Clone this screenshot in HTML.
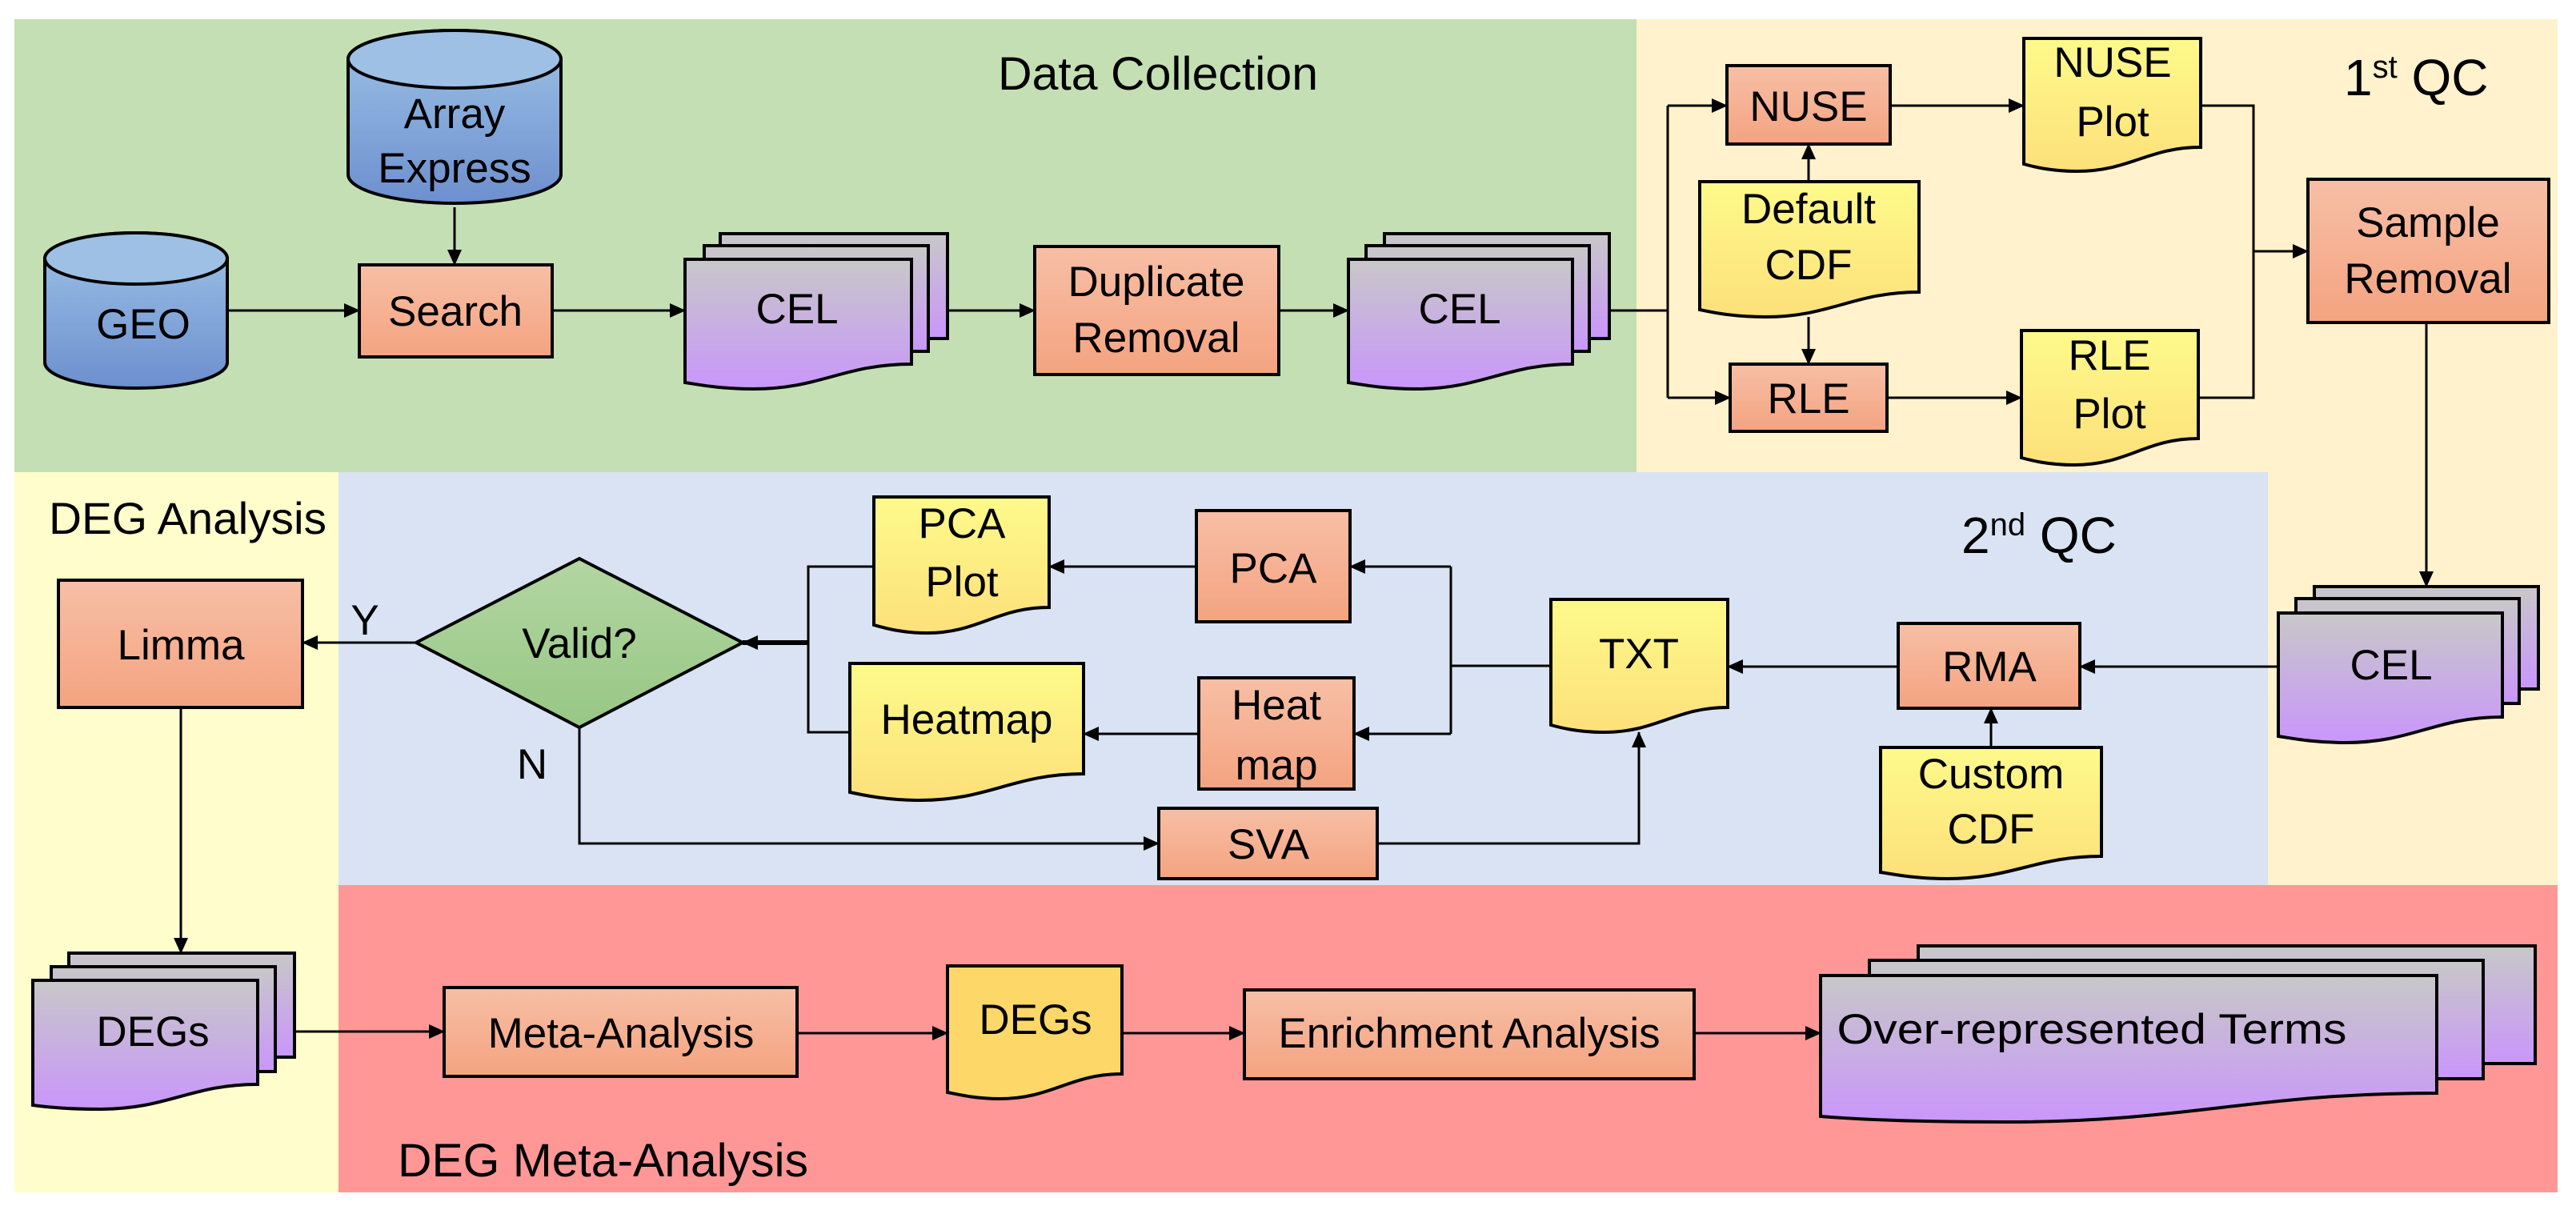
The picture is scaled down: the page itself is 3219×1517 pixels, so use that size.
<!DOCTYPE html>
<html><head><meta charset="utf-8"><style>
html,body{margin:0;padding:0;background:#fff;}
svg{display:block;}
text{font-family:"Liberation Sans",sans-serif;fill:#000;}
</style></head><body>
<svg width="3219" height="1517" viewBox="0 0 3219 1517" xmlns="http://www.w3.org/2000/svg">
<defs>
<linearGradient id="gBox" x1="0" y1="0" x2="0" y2="1"><stop offset="0" stop-color="#f7bfa6"/><stop offset="1" stop-color="#f4a380"/></linearGradient>
<linearGradient id="gCyl" x1="0" y1="0" x2="0" y2="1"><stop offset="0" stop-color="#9dc3e6"/><stop offset="1" stop-color="#6d8fcf"/></linearGradient>
<linearGradient id="gDoc" x1="0" y1="0" x2="0" y2="1"><stop offset="0" stop-color="#fdfa8a"/><stop offset="1" stop-color="#fde07a"/></linearGradient>
<linearGradient id="gCel" x1="0" y1="0" x2="0" y2="1"><stop offset="0" stop-color="#c8c8c8"/><stop offset="1" stop-color="#c996fb"/></linearGradient>
<linearGradient id="gDia" x1="0" y1="0" x2="0" y2="1"><stop offset="0" stop-color="#b3d6a2"/><stop offset="1" stop-color="#97c785"/></linearGradient>
<marker id="ar" markerWidth="20" markerHeight="18" refX="19" refY="9" orient="auto" markerUnits="userSpaceOnUse"><path d="M0,0 L20,9 L0,18 Z" fill="#000"/></marker>
</defs>
<rect x="18" y="24" width="2027" height="566" fill="#c5dfb4"/>
<rect x="2045" y="24" width="1151" height="566" fill="#fff2cc"/>
<rect x="2834" y="588" width="362" height="520" fill="#fff2cc"/>
<rect x="18" y="590" width="405" height="900" fill="#fffdcb"/>
<rect x="423" y="590" width="2411" height="517" fill="#dae3f3"/>
<rect x="423" y="1106" width="2773" height="384" fill="#ff9797"/>

<g stroke="#000" stroke-width="4">
<path d="M56,323 A114,32 0 0 1 284,323 V453 A114,32 0 0 1 56,453 Z" fill="url(#gCyl)"/>
<ellipse cx="170" cy="323" rx="114" ry="32" fill="#9dc0e4"/>
<path d="M435,74 A133,36 0 0 1 701,74 V218 A133,36 0 0 1 435,218 Z" fill="url(#gCyl)"/>
<ellipse cx="568" cy="74" rx="133" ry="36" fill="#9dc0e4"/>
<rect x="449" y="331" width="241" height="115" fill="url(#gBox)"/>
<rect x="1293" y="308" width="305" height="160" fill="url(#gBox)"/>
<rect x="2158" y="82" width="204" height="98" fill="url(#gBox)"/>
<rect x="2162" y="455" width="196" height="84" fill="url(#gBox)"/>
<rect x="2884" y="224" width="301" height="179" fill="url(#gBox)"/>
<rect x="2372" y="779" width="227" height="106" fill="url(#gBox)"/>
<rect x="1495" y="638" width="192" height="139" fill="url(#gBox)"/>
<rect x="1498" y="847" width="194" height="139" fill="url(#gBox)"/>
<rect x="1448" y="1010" width="273" height="88" fill="url(#gBox)"/>
<rect x="73" y="725" width="305" height="159" fill="url(#gBox)"/>
<rect x="555" y="1234" width="441" height="111" fill="url(#gBox)"/>
<rect x="1555" y="1237" width="562" height="111" fill="url(#gBox)"/>
<path d="M724,698 L928,803 L724,909 L520,803 Z" fill="url(#gDia)"/>
<rect x="900" y="292" width="284" height="131" fill="url(#gCel)"/>
<rect x="880" y="307" width="280" height="132" fill="url(#gCel)"/>
<path d="M856,324 H1139 V455 C1054,455 1026,486 941,486 C898,486 870,480 856,478 Z" fill="url(#gCel)"/>
<rect x="1730" y="292" width="281" height="131" fill="url(#gCel)"/>
<rect x="1707" y="307" width="279" height="132" fill="url(#gCel)"/>
<path d="M1685,324 H1965 V455 C1881,455 1853,486 1769,486 C1727,486 1699,480 1685,478 Z" fill="url(#gCel)"/>
<rect x="2892" y="733" width="280" height="128" fill="url(#gCel)"/>
<rect x="2869" y="748" width="279" height="131" fill="url(#gCel)"/>
<path d="M2847,766 H3127 V896 C3043,896 3015,928 2931,928 C2889,928 2861,922 2847,920 Z" fill="url(#gCel)"/>
<rect x="86" y="1191" width="282" height="130" fill="url(#gCel)"/>
<rect x="64" y="1208" width="280" height="131" fill="url(#gCel)"/>
<path d="M41,1225 H322 V1355 C238,1355 210,1386 125,1386 C83,1386 55,1383 41,1381 Z" fill="url(#gCel)"/>
<rect x="2397" y="1182" width="771" height="147" fill="url(#gCel)"/>
<rect x="2336" y="1200" width="767" height="148" fill="url(#gCel)"/>
<path d="M2275,1219 H3045 V1366 C2814,1366 2737,1402 2506,1402 C2390,1402 2313,1398 2275,1395 Z" fill="url(#gCel)"/>
<path d="M2529,48 H2750 V184 C2684,184 2662,214 2595,214 C2562,214 2540,208 2529,205 Z" fill="url(#gDoc)"/>
<path d="M2124,227 H2398 V365 C2316,365 2288,396 2206,396 C2165,396 2138,390 2124,387 Z" fill="url(#gDoc)"/>
<path d="M2526,413 H2747 V548 C2681,548 2659,581 2592,581 C2559,581 2537,575 2526,572 Z" fill="url(#gDoc)"/>
<path d="M1938,749 H2159 V884 C2093,884 2071,915 2004,915 C1971,915 1949,909 1938,906 Z" fill="url(#gDoc)"/>
<path d="M2350,934 H2626 V1070 C2543,1070 2516,1098 2433,1098 C2391,1098 2364,1092 2350,1090 Z" fill="url(#gDoc)"/>
<path d="M1092,621 H1311 V759 C1245,759 1223,791 1158,791 C1125,791 1103,784 1092,781 Z" fill="url(#gDoc)"/>
<path d="M1062,829 H1354 V967 C1266,967 1237,1000 1150,1000 C1106,1000 1077,993 1062,990 Z" fill="url(#gDoc)"/>
<path d="M1184,1207 H1402 V1342 C1337,1342 1315,1373 1249,1373 C1217,1373 1195,1367 1184,1365 Z" fill="#fdd868"/>
</g>

<g stroke="#000" stroke-width="3" fill="none">
<line x1="284" y1="388" x2="449" y2="388" marker-end="url(#ar)"/>
<line x1="568" y1="259" x2="568" y2="331" marker-end="url(#ar)"/>
<line x1="690" y1="388" x2="856" y2="388" marker-end="url(#ar)"/>
<line x1="1184" y1="388" x2="1293" y2="388" marker-end="url(#ar)"/>
<line x1="1598" y1="388" x2="1685" y2="388" marker-end="url(#ar)"/>
<polyline points="2011,388 2084,388"/>
<polyline points="2084,132 2084,497"/>
<line x1="2084" y1="132" x2="2158" y2="132" marker-end="url(#ar)"/>
<line x1="2084" y1="497" x2="2162" y2="497" marker-end="url(#ar)"/>
<line x1="2260" y1="227" x2="2260" y2="180" marker-end="url(#ar)"/>
<line x1="2260" y1="396" x2="2260" y2="455" marker-end="url(#ar)"/>
<line x1="2362" y1="132" x2="2529" y2="132" marker-end="url(#ar)"/>
<line x1="2358" y1="497" x2="2526" y2="497" marker-end="url(#ar)"/>
<polyline points="2750,132 2816,132 2816,497 2747,497"/>
<line x1="2816" y1="314" x2="2884" y2="314" marker-end="url(#ar)"/>
<line x1="3032" y1="403" x2="3032" y2="733" marker-end="url(#ar)"/>
<line x1="2847" y1="833" x2="2599" y2="833" marker-end="url(#ar)"/>
<line x1="2488" y1="934" x2="2488" y2="885" marker-end="url(#ar)"/>
<line x1="2372" y1="833" x2="2159" y2="833" marker-end="url(#ar)"/>
<polyline points="1938,832 1813,832"/>
<polyline points="1813,708 1813,917"/>
<line x1="1813" y1="708" x2="1687" y2="708" marker-end="url(#ar)"/>
<line x1="1813" y1="917" x2="1692" y2="917" marker-end="url(#ar)"/>
<line x1="1495" y1="708" x2="1311" y2="708" marker-end="url(#ar)"/>
<line x1="1498" y1="917" x2="1354" y2="917" marker-end="url(#ar)"/>
<polyline points="1092,708 1010,708 1010,915 1062,915"/>
<line x1="1010" y1="803" x2="928" y2="803" stroke-width="6" marker-end="url(#ar)"/>
<line x1="520" y1="803" x2="378" y2="803" marker-end="url(#ar)"/>
<polyline points="724,909 724,1054 1430,1054"/>
<line x1="1400" y1="1054" x2="1448" y2="1054" marker-end="url(#ar)"/>
<polyline points="1721,1054 2048,1054 2048,960"/>
<line x1="2048" y1="980" x2="2048" y2="915" marker-end="url(#ar)"/>
<line x1="226" y1="884" x2="226" y2="1191" marker-end="url(#ar)"/>
<line x1="368" y1="1289" x2="555" y2="1289" marker-end="url(#ar)"/>
<line x1="996" y1="1291" x2="1184" y2="1291" marker-end="url(#ar)"/>
<line x1="1402" y1="1291" x2="1555" y2="1291" marker-end="url(#ar)"/>
<line x1="2117" y1="1291" x2="2275" y2="1291" marker-end="url(#ar)"/>
</g>

<text x="1247" y="112" font-size="58" textLength="400" lengthAdjust="spacingAndGlyphs">Data Collection</text>
<text x="2929" y="119" font-size="64">1<tspan font-size="40" dy="-22">st</tspan><tspan dy="22"> QC</tspan></text>
<text x="2451" y="691" font-size="64">2<tspan font-size="40" dy="-22">nd</tspan><tspan dy="22"> QC</tspan></text>
<text x="61" y="667" font-size="56" textLength="347" lengthAdjust="spacingAndGlyphs">DEG Analysis</text>
<text x="497" y="1470" font-size="58" textLength="513" lengthAdjust="spacingAndGlyphs">DEG Meta-Analysis</text>

<g font-size="53" text-anchor="middle">
<text x="179" y="423">GEO</text>
<text x="568" y="160">Array</text>
<text x="568" y="228">Express</text>
<text x="569" y="407">Search</text>
<text x="996" y="404">CEL</text>
<text x="1445" y="370">Duplicate</text>
<text x="1445" y="440">Removal</text>
<text x="1824" y="404">CEL</text>
<text x="2260" y="151">NUSE</text>
<text x="2640" y="96">NUSE</text>
<text x="2640" y="170">Plot</text>
<text x="2260" y="279">Default</text>
<text x="2260" y="349">CDF</text>
<text x="2260" y="516">RLE</text>
<text x="2636" y="462">RLE</text>
<text x="2636" y="535">Plot</text>
<text x="3034" y="296">Sample</text>
<text x="3034" y="366">Removal</text>
<text x="2988" y="849">CEL</text>
<text x="2486" y="851">RMA</text>
<text x="2048" y="835">TXT</text>
<text x="2488" y="985">Custom</text>
<text x="2488" y="1054">CDF</text>
<text x="1202" y="672">PCA</text>
<text x="1202" y="745">Plot</text>
<text x="1591" y="728">PCA</text>
<text x="1595" y="899">Heat</text>
<text x="1595" y="974">map</text>
<text x="1208" y="917">Heatmap</text>
<text x="724" y="822">Valid?</text>
<text x="1585" y="1073">SVA</text>
<text x="226" y="824">Limma</text>
<text x="191" y="1307">DEGs</text>
<text x="776" y="1309">Meta-Analysis</text>
<text x="1294" y="1292">DEGs</text>
<text x="1836" y="1309">Enrichment Analysis</text>
<text x="2614" y="1304" textLength="637" lengthAdjust="spacingAndGlyphs">Over-represented Terms</text>
<text x="456" y="793">Y</text>
<text x="665" y="973">N</text>
</g>
</svg>
</body></html>
